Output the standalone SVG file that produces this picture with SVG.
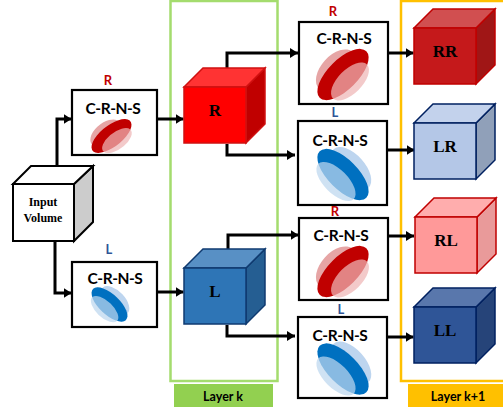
<svg xmlns="http://www.w3.org/2000/svg" xmlns:xlink="http://www.w3.org/1999/xlink" width="503" height="408" viewBox="0 0 503 408">
<style>
.box{fill:#fff;stroke:#000;stroke-width:2.200}
.cn{font:700 15.500px Lato,"Open Sans",sans-serif;letter-spacing:-.45px;text-anchor:middle;fill:#000}
.tag{font:700 13px Lato,"Open Sans",sans-serif;text-anchor:middle}
.tr{fill:#C00000}.tl{fill:#2F5597}
.lay{font:700 12.500px Lato,"Open Sans",sans-serif;text-anchor:middle;fill:#000}
.lbl{font:700 17px "Liberation Serif",serif;text-anchor:middle;fill:#000}
.in{font:700 12px "Liberation Serif",serif;text-anchor:middle;fill:#000}
.con{fill:none;stroke:#000;stroke-width:3;marker-end:url(#ah)}
.f{fill:var(--f)}.t{fill:var(--t)}.s{fill:var(--s)}
.f,.t,.s{stroke:var(--k);stroke-width:1.500}
.c-r{--f:#FF0000;--t:#FF3333;--s:#C00000;--k:#D01010}
.c-l{--f:#2E75B6;--t:#5890C5;--s:#255E92;--k:#0F3A70}
.c-rr{--f:#C5191B;--t:#D14F50;--s:#A01616;--k:#C00000}
.c-lr{--f:#B4C7E7;--t:#C3D2EC;--s:#90A0B9;--k:#002060}
.c-rl{--f:#FF9999;--t:#FFADAD;--s:#E99A9A;--k:#C00000}
.c-ll{--f:#2F5597;--t:#5977AC;--s:#264479;--k:#002060}
</style>
<defs>
<marker id="ah" markerUnits="userSpaceOnUse" markerWidth="9" markerHeight="11" refX="8" refY="5.500" orient="auto"><path d="M0 0.500L8 5.500L0 10.500Z" fill="#000"/></marker>
<g id="er">
<ellipse cx="-7" cy="-4" rx="25" ry="15" transform="rotate(-48 -7 -4)" fill="#E6A5A5"/>
<ellipse cx="0" cy="0" rx="33" ry="15" transform="rotate(-45)" fill="#C00000"/>
<ellipse cx="7" cy="7" rx="24" ry="12" transform="rotate(-45 7 7)" fill="#EFB5B5" fill-opacity=".72"/>
</g>
<g id="eb">
<ellipse cx="8" cy="-6" rx="26" ry="14" transform="rotate(48 8 -6)" fill="#BDD5EF"/>
<ellipse cx="0" cy="0" rx="33" ry="15" transform="rotate(45)" fill="#0070C0"/>
<ellipse cx="-7" cy="7" rx="25" ry="12" transform="rotate(45 -7 7)" fill="#BDD7EE" fill-opacity=".72"/>
</g>
<g id="cb">
<path class="s" d="M62 19L81 0V56L62 75Z"/>
<path class="t" d="M0 19L19 0H81L62 19Z"/>
<rect class="f" x="0" y="19" width="62" height="56"/>
</g>
</defs>
<g id="layer-k">
<rect x="170.500" y="1" width="107" height="380" fill="none" stroke="#A4DC6E" stroke-width="2.500"/>
<rect x="174" y="384" width="99" height="23" fill="#92D050"/>
<text class="lay" x="223" y="401">Layer k</text>
</g>
<g id="layer-k1">
<rect x="401" y="1" width="104" height="380" fill="none" stroke="#FFC000" stroke-width="2.500"/>
<rect x="408" y="384" width="95" height="23" fill="#FFC000"/>
<text class="lay" x="458" y="401">Layer k+1</text>
</g>
<g id="connectors">
<path class="con" d="M57 166V119H71.500"/>
<path class="con" d="M55 241V293H71.500"/>
<path class="con" d="M157 119H183.500"/>
<path class="con" d="M157 292H183.500"/>
<path class="con" d="M227 68V53H298"/>
<path class="con" d="M227 144V155H295"/>
<path class="con" d="M228 249V235H298.500"/>
<path class="con" d="M227 325V336H295"/>
<path class="con" d="M388 53H413.500"/>
<path class="con" d="M387 150H414.500"/>
<path class="con" d="M388 236H414"/>
<path class="con" d="M387 337H413.500"/>
</g>
<g id="input">
<path d="M74 184L93 166V222L74 241Z" fill="#CCC" stroke="#000" stroke-width="2"/>
<path d="M13 184L31 166H93L74 184Z" fill="#fff" stroke="#000" stroke-width="2"/>
<rect x="13" y="184" width="61" height="57" fill="#fff" stroke="#000" stroke-width="2"/>
<text class="in" x="43" y="206">Input</text>
<text class="in" x="43" y="222">Volume</text>
</g>
<g id="crns-r0">
<text class="tag tr" x="108" y="85">R</text>
<rect class="box" x="72" y="90" width="85" height="65"/>
<text class="cn" x="113" y="114">C-R-N-S</text>
<use xlink:href="#er" href="#er" transform="translate(111.500 136) scale(.78 .66)"/>
</g>
<g id="crns-l0">
<text class="tag tl" x="109" y="254">L</text>
<rect class="box" x="72" y="262" width="85" height="65"/>
<text class="cn" x="115" y="284">C-R-N-S</text>
<use xlink:href="#eb" href="#eb" transform="translate(109.500 304.500) scale(.7 .67)"/>
</g>
<g id="cube-r" class="c-r">
<use href="#cb" xlink:href="#cb" transform="translate(184 68)"/>
<text class="lbl" x="215" y="116">R</text>
</g>
<g id="cube-l" class="c-l">
<use href="#cb" xlink:href="#cb" transform="translate(184 249)"/>
<text class="lbl" x="215" y="297">L</text>
</g>
<g id="crns-r1">
<text class="tag tr" x="333" y="16">R</text>
<rect class="box" x="299" y="22" width="89" height="82"/>
<text class="cn" x="344" y="44">C-R-N-S</text>
<use href="#er" xlink:href="#er" transform="translate(343 74.500)"/>
</g>
<g id="crns-l1">
<text class="tag tl" x="335" y="117">L</text>
<rect class="box" x="298" y="121" width="89" height="84"/>
<text class="cn" x="340" y="146">C-R-N-S</text>
<use href="#eb" xlink:href="#eb" transform="translate(343 174.500)"/>
</g>
<g id="crns-r2">
<text class="tag tr" x="335" y="216">R</text>
<rect class="box" x="299" y="218" width="89" height="82"/>
<text class="cn" x="341" y="241">C-R-N-S</text>
<use href="#er" xlink:href="#er" transform="translate(343 271.500)"/>
</g>
<g id="crns-l2">
<text class="tag tl" x="341" y="314">L</text>
<rect class="box" x="298" y="317" width="89" height="81"/>
<text class="cn" x="340" y="341">C-R-N-S</text>
<use href="#eb" xlink:href="#eb" transform="translate(343 369)"/>
</g>
<g id="cube-rr" class="c-rr">
<use href="#cb" xlink:href="#cb" transform="translate(414 9)"/>
<text class="lbl" x="445" y="57">RR</text>
</g>
<g id="cube-lr" class="c-lr">
<use href="#cb" xlink:href="#cb" transform="translate(414 104)"/>
<text class="lbl" x="445" y="152">LR</text>
</g>
<g id="cube-rl" class="c-rl">
<use href="#cb" xlink:href="#cb" transform="translate(415 198)"/>
<text class="lbl" x="446" y="246">RL</text>
</g>
<g id="cube-ll" class="c-ll">
<use href="#cb" xlink:href="#cb" transform="translate(414 288)"/>
<text class="lbl" x="445" y="336">LL</text>
</g>
</svg>
